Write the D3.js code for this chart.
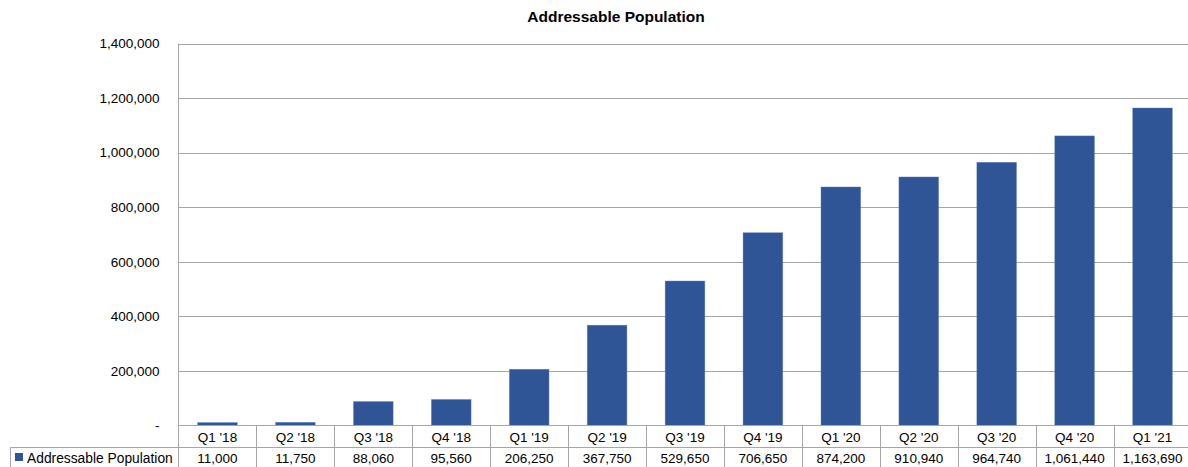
<!DOCTYPE html>
<html>
<head>
<meta charset="utf-8">
<script src="https://cdn.jsdelivr.net/npm/d3@7"></script>
<style>
  html, body { margin: 0; padding: 0; background: #fff; }
  svg { display: block; }
  text { font-family: "Liberation Sans", Arial, sans-serif; fill: #000; }
</style>
</head>
<body>
<svg id="chart" width="1188" height="467"></svg>
<script>
const title = "Addressable Population";
const seriesName = "Addressable Population";
const categories = ["Q1 '18","Q2 '18","Q3 '18","Q4 '18","Q1 '19","Q2 '19","Q3 '19","Q4 '19","Q1 '20","Q2 '20","Q3 '20","Q4 '20","Q1 '21"];
const values = [11000, 11750, 88060, 95560, 206250, 367750, 529650, 706650, 874200, 910940, 964740, 1061440, 1163690];
const yTicks = [0, 200000, 400000, 600000, 800000, 1000000, 1200000, 1400000];

(function () {
const svg = d3.select("#chart");
const pLeft = 178.5, pRight = 1191.5, pTop = 43.5, pBottom = 425.5;
const row1 = 447.5, row2 = 469.5, tableLeft = 10.5;
const barColor = "#2F5597", gridColor = "#a6a6a6";

const x = d3.scaleBand().domain(categories).range([pLeft, pRight]).padding(0);
const y = d3.scaleLinear().domain([0, 1400000]).range([pBottom, pTop]);
const fmt = d3.format(",");

// title
svg.append("text").attr("x", 616).attr("y", 22).attr("text-anchor", "middle")
  .style("font-size", "15.5px").style("font-weight", "bold").text(title);

// gridlines
svg.append("g").selectAll("line").data(yTicks.filter(d => d > 0)).join("line")
  .attr("x1", pLeft).attr("x2", pRight)
  .attr("y1", d => Math.round(y(d)) + 0.5).attr("y2", d => Math.round(y(d)) + 0.5)
  .attr("stroke", gridColor).attr("stroke-width", 1);

// y axis labels
const yAxis = d3.axisLeft(y).tickValues(yTicks).tickSize(0).tickPadding(0)
  .tickFormat(d => d === 0 ? "-  " : fmt(d));
const gy = svg.append("g").attr("transform", `translate(${pLeft - 19},0)`).call(yAxis);
gy.select(".domain").remove();
gy.selectAll("text").style("font-size", "13.5px").style("font-family", "Liberation Sans, Arial, sans-serif").attr("fill", "#000");

// bars
const bw = x.bandwidth() * 0.51;
svg.append("g").selectAll("rect").data(values).join("rect")
  .attr("x", (d, i) => x(categories[i]) + (x.bandwidth() - bw) / 2)
  .attr("width", bw)
  .attr("y", d => y(d))
  .attr("height", d => y(0) - y(d))
  .attr("fill", barColor)
  .attr("stroke", "#6f8fc7").attr("stroke-width", 0.6).attr("stroke-opacity", 0.6);

// table lines
const t = svg.append("g").attr("stroke", gridColor).attr("stroke-width", 1).attr("fill", "none");
t.append("line").attr("x1", pLeft).attr("x2", pRight).attr("y1", pBottom).attr("y2", pBottom);
t.append("line").attr("x1", tableLeft).attr("x2", pRight).attr("y1", row1).attr("y2", row1);
t.append("line").attr("x1", tableLeft).attr("x2", pRight).attr("y1", row2).attr("y2", row2);
t.append("line").attr("x1", pLeft).attr("x2", pLeft).attr("y1", pTop).attr("y2", row2);
t.append("line").attr("x1", tableLeft).attr("x2", tableLeft).attr("y1", row1).attr("y2", row2);
t.selectAll("line.sep").data(categories).join("line").attr("class", "sep")
  .attr("x1", d => Math.round(x(d) + x.bandwidth()) + 0.5)
  .attr("x2", d => Math.round(x(d) + x.bandwidth()) + 0.5)
  .attr("y1", pBottom).attr("y2", row2);

// category labels
svg.append("g").selectAll("text").data(categories).join("text")
  .attr("x", d => x(d) + x.bandwidth() / 2).attr("y", 441.5)
  .attr("text-anchor", "middle").style("font-size", "13.5px").text(d => d);

// values
svg.append("g").selectAll("text").data(values).join("text")
  .attr("x", (d, i) => x(categories[i]) + x.bandwidth() / 2).attr("y", 463)
  .attr("text-anchor", "middle").style("font-size", "13.5px").text(d => fmt(d));

// legend cell
svg.append("rect").attr("x", 15).attr("y", 453).attr("width", 8).attr("height", 8).attr("fill", barColor);
svg.append("text").attr("x", 27).attr("y", 463).style("font-size", "13.8px").text(seriesName);
})();
</script>
</body>
</html>
